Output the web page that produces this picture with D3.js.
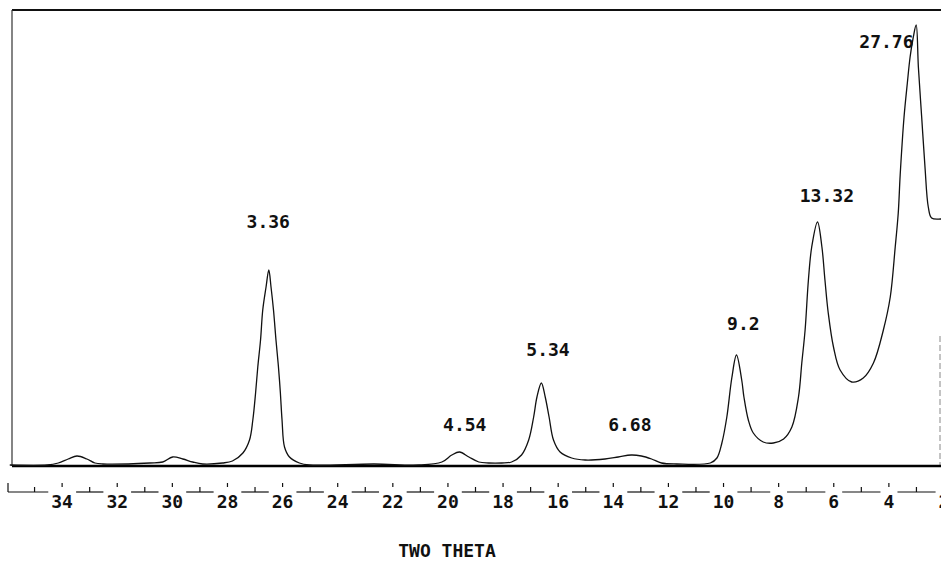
<!DOCTYPE html>
<html>
<head>
<meta charset="utf-8">
<script src="https://cdn.jsdelivr.net/npm/d3@7"></script>
<style>
  body { margin: 0; background: #fff; }
  svg { display: block; }
  .lbl { font-family: 'DejaVu Sans Mono', monospace; font-size: 18px; font-weight: bold; fill: #111; }
</style>
</head>
<body>
<div id="chart"></div>
<script>
const width = 941;
const height = 563;

// scan: 2-theta (deg) and intensity (arb. units)
const theta = [35.9, 34.54, 34.14, 33.78, 33.46, 33.10, 32.81, 32.52, 30.82, 30.35, 29.99, 29.62, 29.26, 28.90,
  28.18, 27.82, 27.44, 27.20, 27.08, 26.98, 26.90, 26.80, 26.72, 26.60, 26.50, 26.42, 26.33, 26.24, 26.15,
  26.08, 26.02, 25.93, 25.75, 25.39, 25.03, 22.68, 21.05, 20.22, 19.86, 19.58, 19.24, 18.88, 18.52, 18.05,
  17.69, 17.33, 17.07, 16.89, 16.77, 16.61, 16.47, 16.33, 16.17, 15.93, 15.51, 15.02, 14.30, 13.82, 13.35,
  12.98, 12.61, 12.25, 11.70, 10.48, 10.24, 10.06, 9.88, 9.70, 9.53, 9.34, 9.26, 9.10, 8.92, 8.56, 8.19,
  7.82, 7.52, 7.28, 7.16, 7.04, 6.92, 6.80, 6.59, 6.43, 6.32, 6.20, 6.01, 5.77, 5.35, 4.93, 4.56, 4.20,
  3.95, 3.77, 3.66, 3.59, 3.45, 3.33, 3.23, 3.12, 3.01, 2.93, 2.81, 2.69, 2.57, 2.45, 2.11, 2.0];
const counts = [1, 1, 3, 7, 10, 7, 3, 2, 3, 4, 9, 7, 4, 2,
  3, 5, 13, 26, 46, 73, 99, 126, 156, 179, 196, 179, 156, 126, 99,
  73, 46, 19, 9, 3, 1, 2, 1, 4, 11, 14, 9, 4, 3, 3,
  4, 11, 26, 49, 69, 83, 69, 49, 26, 14, 8, 6, 7, 9, 11,
  10, 7, 3, 2, 3, 8, 23, 49, 88, 111, 86, 69, 46, 33, 24, 23,
  27, 39, 69, 103, 136, 186, 219, 244, 219, 186, 153, 119, 96, 84, 88, 103, 136,
  169, 219, 253, 291, 349, 383, 409, 428, 441, 399, 349, 299, 259, 248, 247, 247];

// peak annotations: d-spacing text, label centre (2-theta) and label baseline (intensity)
const peakText = ['3.36', '4.54', '5.34', '6.68', '9.2', '13.32', '27.76'];
const peakTheta = [26.52, 19.39, 16.37, 13.40, 9.28, 6.25, 4.09];
const peakLevel = [238, 35, 110, 35, 136, 264, 418];

const majorTicks = [34, 32, 30, 28, 26, 24, 22, 20, 18, 16, 14, 12, 10, 8, 6, 4, 2];
const minorTicks = [35, 33, 31, 29, 27, 25, 23, 21, 19, 17, 15, 13, 11, 9, 7, 5, 3];
const axisTitle = 'TWO THETA';

const x = d3.scaleLinear().domain([36, 2]).range([7, 944]);
const y = d3.scaleLinear().domain([0, 456]).range([466, 10]);

const data = theta.map((t, i) => ({ t: t, c: counts[i] }));

const svg = d3.select('#chart')
  .append('svg')
  .attr('width', width)
  .attr('height', height);

// frame
svg.append('line')
  .attr('x1', 12).attr('x2', width).attr('y1', y(456)).attr('y2', y(456))
  .attr('stroke', '#111').attr('stroke-width', 2);
svg.append('line')
  .attr('x1', 12).attr('x2', 12).attr('y1', y(456)).attr('y2', y(0))
  .attr('stroke', '#333').attr('stroke-width', 1.2);
svg.append('line')
  .attr('x1', 940).attr('x2', 940).attr('y1', y(130)).attr('y2', y(0))
  .attr('stroke', '#888').attr('stroke-width', 1)
  .attr('stroke-dasharray', '6,3');

// baseline
svg.append('line')
  .attr('x1', 12).attr('x2', width).attr('y1', y(0)).attr('y2', y(0))
  .attr('stroke', '#000').attr('stroke-width', 2.5);

// trace
const line = d3.line()
  .curve(d3.curveCatmullRom.alpha(0.5))
  .x(d => x(d.t))
  .y(d => y(d.c));

svg.append('path')
  .datum(data)
  .attr('d', line)
  .attr('fill', 'none')
  .attr('stroke', '#111')
  .attr('stroke-width', 1.3);

// peak labels
svg.append('g')
  .selectAll('text')
  .data(peakText)
  .join('text')
  .attr('class', 'lbl')
  .attr('text-anchor', 'middle')
  .attr('x', (d, i) => x(peakTheta[i]))
  .attr('y', (d, i) => y(peakLevel[i]))
  .text(d => d);

// bottom axis, drawn by hand: line broken around the labels
const axisY = 492;
const axis = svg.append('g');

const labels = axis.selectAll('text')
  .data(majorTicks)
  .join('text')
  .attr('class', 'lbl')
  .attr('text-anchor', 'middle')
  .attr('x', d => x(d))
  .attr('y', axisY + 16)
  .text(d => d);

// segments between labels
let edges = [8];
labels.each(function () {
  const b = this.getBBox();
  edges.push(b.x - 3, b.x + b.width + 3);
});
edges.push(width);
for (let i = 0; i < edges.length; i += 2) {
  if (edges[i + 1] > edges[i]) {
    axis.append('line')
      .attr('x1', edges[i]).attr('x2', edges[i + 1])
      .attr('y1', axisY).attr('y2', axisY)
      .attr('stroke', '#111').attr('stroke-width', 1.2);
  }
}

axis.append('line')
  .attr('x1', 8).attr('x2', 8).attr('y1', axisY - 9).attr('y2', axisY)
  .attr('stroke', '#111').attr('stroke-width', 1.2);

axis.selectAll('.major')
  .data(majorTicks)
  .join('line')
  .attr('class', 'major')
  .attr('x1', d => x(d)).attr('x2', d => x(d))
  .attr('y1', axisY - 9).attr('y2', axisY - 5)
  .attr('stroke', '#111').attr('stroke-width', 1.2);

axis.selectAll('.minor')
  .data(minorTicks)
  .join('line')
  .attr('class', 'minor')
  .attr('x1', d => x(d)).attr('x2', d => x(d))
  .attr('y1', axisY - 5).attr('y2', axisY)
  .attr('stroke', '#111').attr('stroke-width', 1.2);

svg.append('text')
  .attr('class', 'lbl')
  .attr('text-anchor', 'middle')
  .attr('x', 447)
  .attr('y', 557)
  .text(axisTitle);
</script>
</body>
</html>
